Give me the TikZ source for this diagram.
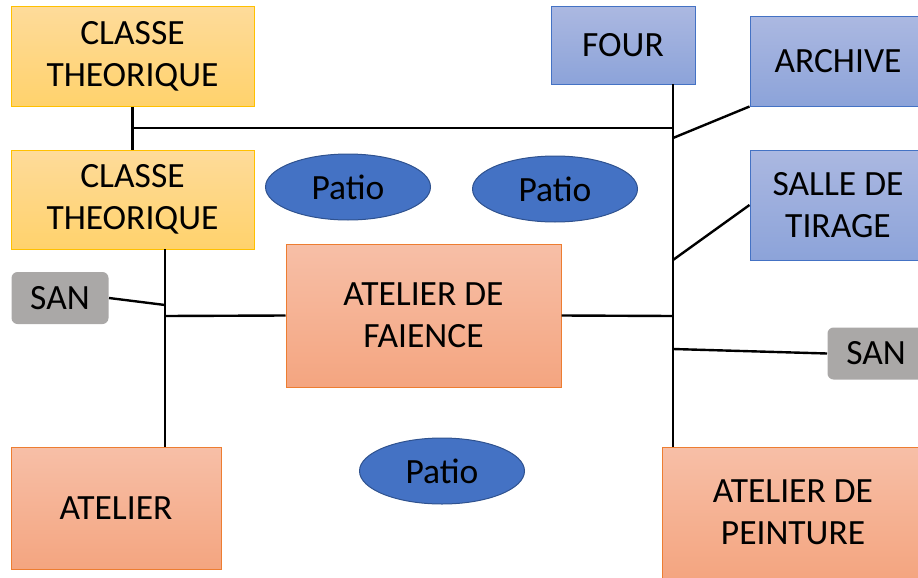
\documentclass[tikz,border=0pt]{standalone}
\usepackage{fontspec}
\setmainfont{Carlito}
\usetikzlibrary{shapes.geometric}

\definecolor{yeltop}{HTML}{FEDB9A}
\definecolor{yelbot}{HTML}{FFD26C}
\definecolor{yeledge}{HTML}{FFC000}
\definecolor{blutop}{HTML}{ABB8E1}
\definecolor{blubot}{HTML}{8CA3D9}
\definecolor{bluedge}{HTML}{4472C4}
\definecolor{saltop}{HTML}{F7BFA7}
\definecolor{salbot}{HTML}{F4A580}
\definecolor{saledge}{HTML}{ED7D31}
\definecolor{sangray}{HTML}{AAA8A7}
\definecolor{patiofill}{HTML}{4472C4}
\definecolor{patioedge}{HTML}{2F528F}

\begin{document}
\begin{tikzpicture}[x=1pt, y=-1pt, line width=2.4pt,
  room/.style={rectangle, align=center, inner sep=0pt, line width=1pt, font=\fontsize{35.5}{42}\selectfont},
  classe/.style={room, top color=yeltop, bottom color=yelbot, draw=yeledge},
  service/.style={room, top color=blutop, bottom color=blubot, draw=bluedge},
  atelier/.style={room, top color=saltop, bottom color=salbot, draw=saledge},
  san/.style={room, fill=sangray, rounded corners=6pt, minimum width=97, minimum height=52},
  patio/.style={ellipse, fill=patiofill, draw=patioedge, line width=1pt, inner sep=0pt, minimum width=165, minimum height=66, font=\fontsize{35.5}{42}\selectfont}]
  \useasboundingbox (0,0) rectangle (918,578);
  % rooms
  \node[classe, minimum width=243, minimum height=99] (ct1) at (132.5,56.5) {CLASSE\\THEORIQUE};
  \node[classe, minimum width=243, minimum height=99] (ct2) at (132.5,199.5) {CLASSE\\THEORIQUE};
  \node[service, minimum width=144, minimum height=77] (four) at (623,45.5) {FOUR};
  \node[service, minimum width=176, minimum height=89] (archive) at (838,61.5) {ARCHIVE};
  \node[service, minimum width=176, minimum height=110] (salle) at (838,205) {SALLE DE\\TIRAGE};
  \node[san] (sanl) at (60,298) {SAN};
  \node[san] (sanr) at (876,353.5) {SAN};
  \node[atelier, minimum width=275, minimum height=143] (faience) at (423.5,315.5) {ATELIER DE\\FAIENCE};
  \node[atelier, minimum width=210, minimum height=122] (atel) at (116,508) {ATELIER};
  \node[atelier, minimum width=262, minimum height=131] (peint) at (793,512.5) {ATELIER DE\\PEINTURE};
  \foreach \n/\x/\y in {p1/348/187, p2/555/189, p3/442/471} \node[patio] (\n) at (\x,\y) {Patio};
  % corridors
  \coordinate (ltop) at (165,249);  \coordinate (lbot) at (165,447);
  \coordinate (rtop) at (673,84);   \coordinate (rbot) at (673,447);
  \coordinate (hl) at (133,128);    \coordinate (hr) at (673,128);
  \coordinate (jarch) at (673,138); \coordinate (jsalle) at (673,260);
  \coordinate (jfr) at (673,316);   \coordinate (jsanr) at (673,349);
  \coordinate (jfl) at (165,316);   \coordinate (jsanl) at (165,305);
  \draw (ct1) -- (ct2);
  \draw (hl) -- (hr);
  \draw (rtop) -- (rbot);
  \draw (ltop) -- (lbot);
  \draw (archive.south west) -- (jarch);
  \draw (salle.west) -- (jsalle);
  \draw (faience.east) -- (jfr);
  \draw (faience.west) -- (jfl);
  \draw (sanr.west) -- (jsanr);
  \draw (sanl.east) -- (jsanl);
\end{tikzpicture}
\end{document}
